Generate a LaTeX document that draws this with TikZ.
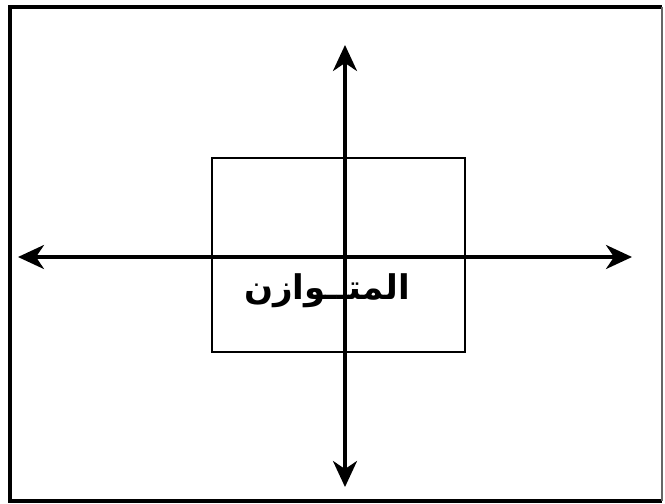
\documentclass[tikz,border=0pt]{standalone}
\usepackage{fontspec}
\usetikzlibrary{arrows.meta,positioning}
\TeXXeTstate=1
\newfontfamily\arabicfont[Script=Arabic]{DejaVu Sans}
\tikzset{
  axis/.style={line width=3.4pt,-{Stealth[length=26pt,width=24pt,inset=8pt]}},
  frame/.style={line width=4.2pt},
  box/.style={draw,line width=2.9pt,minimum width=253pt,minimum height=194pt,inner sep=0pt}
}
\begin{document}
\begin{tikzpicture}[x=1pt,y=-1pt]
  \useasboundingbox (0,0) rectangle (665,504);
  % outer frame
  \draw[frame] (662,501) -- (10,501) -- (10,7) -- (662,7);
  \draw[line width=1.2pt,black!60] (662,7) -- (662,501);
  % balance box
  \node[box] (bal) at (338.5,255) {};
  \coordinate (c) at (345,257);
  \coordinate (W) at (18,257);
  \coordinate (E) at (632,257);
  \coordinate (N) at (345,45);
  \coordinate (S) at (345,487);
  % axes
  \draw[axis] (c) -- (W);
  \draw[axis] (c) -- (E);
  \draw[axis] (c) -- (N);
  \draw[axis] (c) -- (S);
  \node[inner sep=1pt,font=\arabicfont\bfseries\fontsize{34}{40}\selectfont] (lbl) at (327,291) {\beginR المتــوازن\endR};
\end{tikzpicture}
\end{document}
